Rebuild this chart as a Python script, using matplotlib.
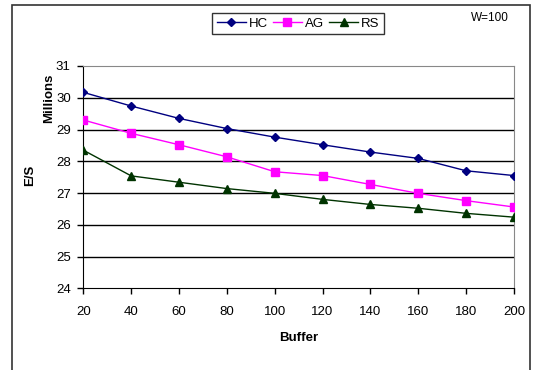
import numpy as np
import matplotlib
matplotlib.use("Agg")
import matplotlib.pyplot as plt
from matplotlib.patches import Rectangle

plt.rcParams['font.family'] = ['Liberation Sans', 'DejaVu Sans']

# data
buffer_sizes = [20, 40, 60, 80, 100, 120, 140, 160, 180, 200]
hc = [30.17, 29.74, 29.35, 29.03, 28.76, 28.52, 28.29, 28.09, 27.70, 27.55]
ag = [29.30, 28.88, 28.52, 28.14, 27.67, 27.55, 27.27, 26.99, 26.76, 26.56]
rs = [28.35, 27.54, 27.34, 27.14, 26.99, 26.80, 26.64, 26.52, 26.36, 26.24]
y_ticks = [24, 25, 26, 27, 28, 29, 30, 31]

fig = plt.figure(figsize=(5.33, 3.70), dpi=100)
fig.patch.set_facecolor("white")

# outer chart frame (bottom edge lies outside the picture)
fig.patches.append(Rectangle((12/533, -0.05), (530-12)/533, 1.05 - 5/370,
                             transform=fig.transFigure, fill=False,
                             edgecolor="#333333", linewidth=1.2))

ax = fig.add_axes([83.3/533, 1-288.3/370, (514-83.3)/533, (288.3-66)/370])

for v in y_ticks[1:-1]:
    ax.axhline(v, color="black", linewidth=1.0, zorder=1)

ax.plot(buffer_sizes, hc, color="#000080", marker="D", markersize=4.5, linewidth=1, label="HC", zorder=3)
ax.plot(buffer_sizes, ag, color="#FF00FF", marker="s", markersize=6, linewidth=1, label="AG", zorder=3)
ax.plot(buffer_sizes, rs, color="#003300", marker="^", markersize=5.5, linewidth=1, label="RS", zorder=3)

ax.set_xlim(20, 200)
ax.set_ylim(24, 31)
ax.set_xticks(buffer_sizes)
ax.set_yticks(y_ticks)
ax.tick_params(axis="both", direction="out", length=4, width=1, labelsize=9.5, pad=5)
ax.tick_params(axis="x", pad=9)

ax.spines["left"].set_color("black")
ax.spines["bottom"].set_color("black")
ax.spines["top"].set_color("#888888")
ax.spines["right"].set_color("#888888")

ax.set_xlabel("Buffer", fontsize=9.5, fontweight="bold", labelpad=10)
fig.text(30/533, 1-175/370, "E/S", rotation=90, fontsize=9.5, fontweight="bold",
         ha="center", va="center")
fig.text(49/533, 1-98/370, "Millions", rotation=90, fontsize=9.5, fontweight="bold",
         ha="center", va="center")

leg = fig.legend(loc="center", bbox_to_anchor=(298/533, 1-23.5/370), ncol=3,
                 fontsize=9.5, frameon=True, fancybox=False, edgecolor="black",
                 handlelength=2.2, handletextpad=0.2, columnspacing=0.4,
                 borderpad=0.35)
leg.get_frame().set_linewidth(1)

fig.text(490/533, 1-18/370, "W=100", fontsize=8.5, ha="center", va="center")

fig.savefig("out.png", dpi=100)
